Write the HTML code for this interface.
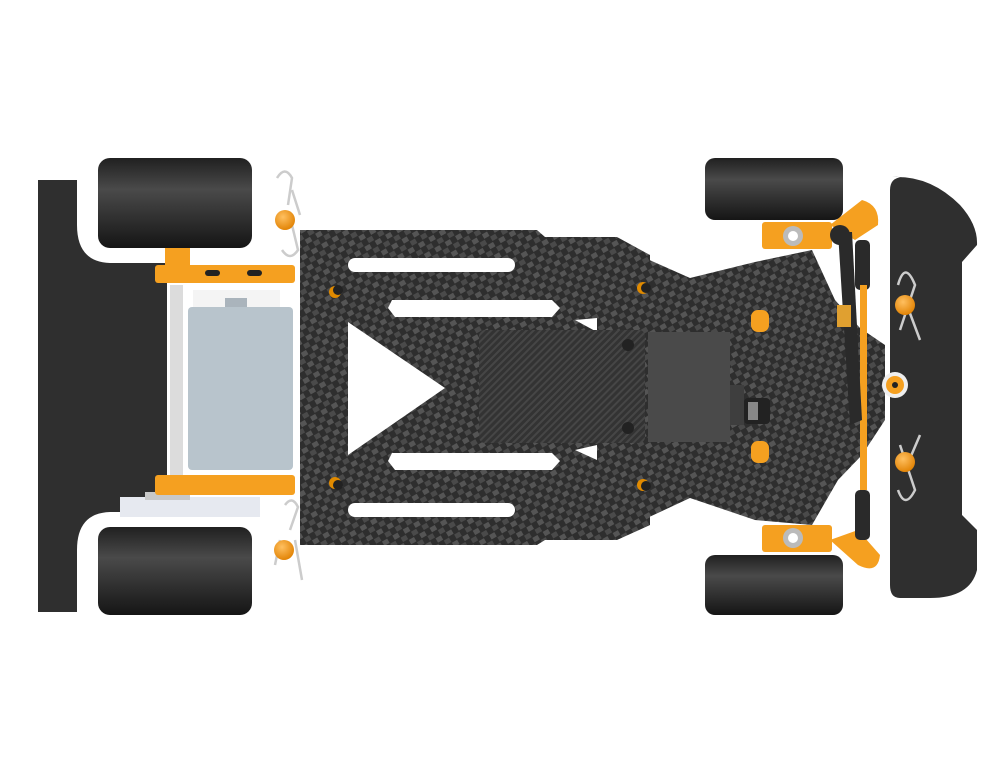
<!DOCTYPE html>
<html><head><meta charset="utf-8"><style>html,body{margin:0;padding:0;background:#fff}svg{display:block}</style></head>
<body>
<svg width="994" height="768" viewBox="0 0 994 768" xmlns="http://www.w3.org/2000/svg">
<defs>
<pattern id="cf" width="12" height="12" patternUnits="userSpaceOnUse" patternTransform="rotate(-30)">
<rect width="12" height="12" fill="#2e2e2e"/><rect width="6" height="5" fill="#555"/><rect x="6" y="6" width="6" height="5" fill="#4a4a4a"/>
</pattern>
<pattern id="cf2" width="5" height="5" patternUnits="userSpaceOnUse" patternTransform="rotate(-45)">
<rect width="5" height="5" fill="#333"/><rect width="5" height="2" fill="#464646"/>
</pattern>
<linearGradient id="tire" x1="0" y1="0" x2="0" y2="1"><stop offset="0" stop-color="#202020"/><stop offset="0.35" stop-color="#4a4a4a"/><stop offset="1" stop-color="#151515"/></linearGradient>
<radialGradient id="ball" cx="0.4" cy="0.35" r="0.7"><stop offset="0" stop-color="#ffc060"/><stop offset="1" stop-color="#e08000"/></radialGradient>
</defs>
<rect width="994" height="768" fill="#fff"/>
<!-- rear bumper -->
<path d="M38 180 H77 V225 Q77 262 110 263 H167 V512 H110 Q77 513 77 550 V612 H38 Z" fill="#2f2f2f"/>
<!-- wheels -->
<rect x="98" y="158" width="154" height="90" rx="12" fill="url(#tire)"/>
<rect x="98" y="527" width="154" height="88" rx="12" fill="url(#tire)"/>
<rect x="705" y="158" width="138" height="62" rx="10" fill="url(#tire)"/>
<rect x="705" y="555" width="138" height="60" rx="10" fill="url(#tire)"/>
<!-- front bumper -->
<path d="M892 177 Q930 175 960 205 Q978 225 977 245 L962 262 V515 L977 530 V570 Q970 598 930 598 H900 Q890 598 890 585 V190 Q890 178 902 177 Z" fill="#2f2f2f"/>
<!-- front plate -->
<path d="M600 238 L690 278 L755 262 L812 250 L835 300 L860 328 L885 345 L885 420 L862 455 L838 480 L812 525 L755 520 L690 498 L600 540 Z" fill="url(#cf)"/>
<!-- main plate -->
<path d="M300 230 H537 L545 237 H617 L650 255 L650 525 L617 540 H545 L537 545 H300 Z" fill="url(#cf)"/>
<!-- cutouts -->
<g fill="#fff">
<rect x="348" y="258" width="167" height="14" rx="7"/>
<rect x="348" y="503" width="167" height="14" rx="7"/>
<path d="M392 300 H552 L560 308 L552 317 H395 L388 308 Z"/>
<path d="M392 453 H552 L560 461 L552 470 H395 L388 461 Z"/>
<path d="M348 322 L348 455 L445 388 Z"/>
<path d="M575 320 L597 318 L597 332 Z"/>
<path d="M575 450 L597 445 L597 460 Z"/>
</g>
<!-- center plate -->
<rect x="479" y="330" width="166" height="113" rx="6" fill="url(#cf2)"/>
<!-- servo -->
<rect x="648" y="332" width="82" height="110" fill="#4a4a4a"/>
<rect x="730" y="385" width="14" height="40" fill="#3e3e3e"/>
<rect x="744" y="398" width="26" height="26" rx="4" fill="#222"/>
<rect x="748" y="402" width="10" height="18" fill="#888"/>
<!-- screws -->
<g fill="#e08a00"><circle cx="335" cy="292" r="6"/><circle cx="335" cy="483" r="6"/><circle cx="643" cy="288" r="6"/><circle cx="643" cy="485" r="6"/></g>
<g fill="#222"><circle cx="338" cy="290" r="5"/><circle cx="338" cy="485" r="5"/><circle cx="646" cy="288" r="5"/><circle cx="646" cy="486" r="5"/><circle cx="628" cy="345" r="6"/><circle cx="628" cy="428" r="6"/></g>
<rect x="751" y="310" width="18" height="22" rx="7" fill="#f5a020"/>
<rect x="751" y="441" width="18" height="22" rx="7" fill="#f5a020"/>
<!-- rear: axle, motor -->
<rect x="170" y="285" width="13" height="205" fill="#dcdcdc"/>
<rect x="193" y="290" width="87" height="18" fill="#f4f4f4"/>
<rect x="225" y="298" width="22" height="10" fill="#aab4bc"/>
<rect x="188" y="307" width="105" height="163" rx="4" fill="#b8c4cc"/>
<rect x="120" y="497" width="140" height="20" fill="#e6e9f0"/>
<rect x="145" y="492" width="45" height="8" fill="#c8c8c8"/>
<rect x="165" y="248" width="25" height="17" fill="#f5a020"/>
<rect x="155" y="265" width="140" height="18" rx="3" fill="#f5a020"/>
<rect x="205" y="270" width="15" height="6" rx="3" fill="#222"/><rect x="247" y="270" width="15" height="6" rx="3" fill="#222"/>
<rect x="155" y="475" width="140" height="20" rx="3" fill="#f5a020"/>
<!-- rear clips & balls -->
<g fill="none" stroke="#ccc" stroke-width="2.5"><path d="M277 178 Q285 165 292 178 L288 205 M292 190 L300 215"/><path d="M282 250 Q290 262 298 250 L292 225"/><path d="M285 505 Q292 495 298 507 L290 530 M280 540 L275 565 M295 540 L302 580"/></g>
<circle cx="285" cy="220" r="10" fill="url(#ball)"/>
<circle cx="284" cy="550" r="10" fill="url(#ball)"/>
<!-- front steering -->
<rect x="762" y="222" width="70" height="27" rx="3" fill="#f5a020"/>
<circle cx="793" cy="236" r="10" fill="#bbb"/><circle cx="793" cy="236" r="5" fill="#fff"/>
<path d="M830 225 L862 200 Q880 205 878 225 L855 240 Z" fill="#f5a020"/>
<rect x="762" y="525" width="70" height="27" rx="3" fill="#f5a020"/>
<circle cx="793" cy="538" r="10" fill="#bbb"/><circle cx="793" cy="538" r="5" fill="#fff"/>
<path d="M830 540 L858 565 Q878 575 880 555 L858 530 Z" fill="#f5a020"/>
<rect x="855" y="240" width="15" height="50" rx="5" fill="#2a2a2a"/>
<rect x="855" y="490" width="15" height="50" rx="5" fill="#2a2a2a"/>
<rect x="860" y="285" width="7" height="205" fill="#f5a020"/>
<path d="M838 232 L852 232 L862 420 L850 425 Z" fill="#2a2a2a"/>
<circle cx="840" cy="235" r="10" fill="#2a2a2a"/>
<rect x="837" y="305" width="14" height="22" fill="#e0a030"/>
<circle cx="895" cy="385" r="13" fill="#eee"/><circle cx="895" cy="385" r="9" fill="#f5a020"/><circle cx="895" cy="385" r="3" fill="#222"/>
<g fill="none" stroke="#ccc" stroke-width="2.5"><path d="M898 285 Q905 260 915 285 L900 330 M905 300 L920 340"/><path d="M898 490 Q905 510 915 490 L900 445 M905 470 L920 435"/></g>
<circle cx="905" cy="305" r="10" fill="url(#ball)"/>
<circle cx="905" cy="462" r="10" fill="url(#ball)"/>
</svg>
</body></html>
